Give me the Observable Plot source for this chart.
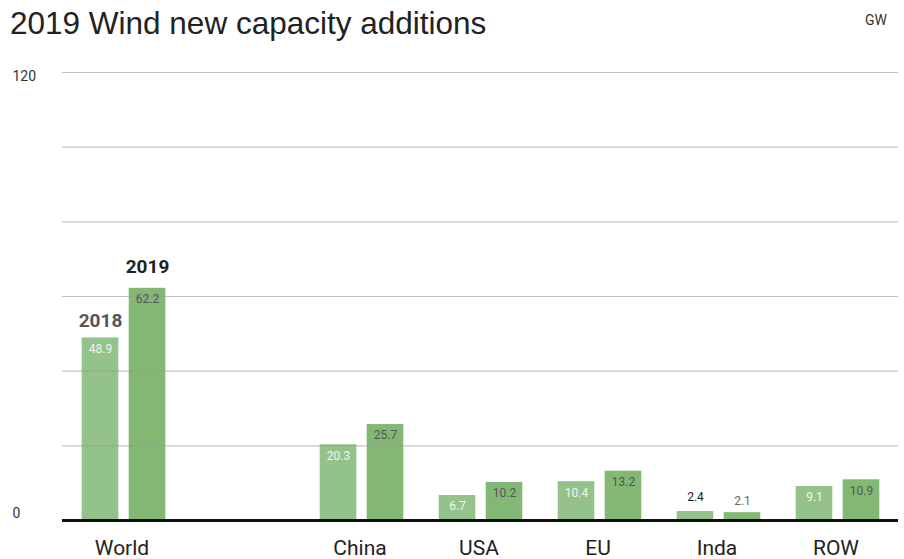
<!DOCTYPE html>
<html>
<head>
<meta charset="utf-8">
<script src="https://cdn.jsdelivr.net/npm/d3@7"></script>
<script src="https://cdn.jsdelivr.net/npm/@observablehq/plot@0.6"></script>
<style>
  html, body { margin: 0; padding: 0; background: #fff; }
  #wrap { position: relative; width: 904px; height: 559px; overflow: hidden; }
  #title { position: absolute; left: 10px; top: 5px; font-family: "Liberation Sans", Arial, sans-serif; font-size: 31.5px; color: #222; white-space: nowrap; }
  #unit { position: absolute; left: 865px; top: 12px; font-family: Roboto, sans-serif; font-size: 14px; color: #333; }
  #chart { position: absolute; left: 0; top: 50px; }
</style>
</head>
<body>
<div id="wrap">
  <div id="title">2019 Wind new capacity additions</div>
  <div id="unit">GW</div>
  <div id="chart"></div>
</div>
<script>
const categories = ["World", " ", "China", "USA", "EU", "Inda", "ROW"];
const regions = ["World", "China", "USA", "EU", "Inda", "ROW"];
const values2018 = [48.9, 20.3, 6.7, 10.4, 2.4, 9.1];
const values2019 = [62.2, 25.7, 10.2, 13.2, 2.1, 10.9];
const yTicks = [0, 20, 40, 60, 80, 100, 120];
const yTickLabels = [0, 120];

const d18 = regions.map((r, i) => ({region: r, value: values2018[i]}));
const d19 = regions.map((r, i) => ({region: r, value: values2019[i]}));
const inside18 = d18.filter(d => d.value > 5);
const inside19 = d19.filter(d => d.value > 5);
const above18 = d18.filter(d => d.value <= 5);
const above19 = d19.filter(d => d.value <= 5);
const world18 = d18.filter(d => d.region === "World");
const world19 = d19.filter(d => d.region === "World");

const font = "Roboto, sans-serif";
const c18 = "#93c38a", c19 = "#82b874";
// band ~119.4px; bars 37px wide, 10px apart, centered in band
const outer = 17.7, inner = 64.7, off = 23.5;

const chart = Plot.plot({
  width: 904,
  height: 509,
  marginLeft: 62,
  marginRight: 6,
  marginTop: 22,
  marginBottom: 39,
  style: {fontFamily: font, background: "#fff", overflow: "visible"},
  x: {domain: categories, padding: 0, label: null, axis: null},
  y: {domain: [0, 120], axis: null},
  marks: [
    Plot.barY(d18, {x: "region", y: "value", fill: c18, insetLeft: outer, insetRight: inner}),
    Plot.barY(d19, {x: "region", y: "value", fill: c19, insetLeft: inner, insetRight: outer}),
    Plot.ruleY(yTicks.filter(t => t > 0), {stroke: "#999", strokeOpacity: 0.6, strokeWidth: 1.2}),
    Plot.ruleY([0], {stroke: "#111", strokeWidth: 3}),
    Plot.text(yTickLabels.filter(t => t > 0), {y: d => d, frameAnchor: "left", text: d => String(d), dx: -50, dy: 4, textAnchor: "start", fontSize: 14, fill: "#333"}),
    Plot.text(yTickLabels.filter(t => t === 0), {y: d => d, frameAnchor: "left", text: d => String(d), dx: -50, dy: -7, textAnchor: "start", fontSize: 14, fill: "#333"}),
    Plot.text(inside18, {x: "region", y: "value", text: d => d.value.toFixed(1), dx: -off, dy: 11, fill: "#f4f4f4", fontSize: 12}),
    Plot.text(inside19, {x: "region", y: "value", text: d => d.value.toFixed(1), dx: off, dy: 11, fill: "#555", fontSize: 12}),
    Plot.text(above18, {x: "region", y: "value", text: d => d.value.toFixed(1), dx: -off, dy: -14, fill: "#222", fontSize: 12}),
    Plot.text(above19, {x: "region", y: "value", text: d => d.value.toFixed(1), dx: off, dy: -12, fill: "#666", fontSize: 12}),
    Plot.text(world18, {x: "region", y: "value", text: () => "2018", dx: -off, dy: -17, fill: "#555", fontSize: 19, fontWeight: "bold"}),
    Plot.text(world19, {x: "region", y: "value", text: () => "2019", dx: off, dy: -21, fill: "#222", fontSize: 19, fontWeight: "bold"}),
    Plot.text(regions, {x: d => d, y: 0, text: d => d, dx: -2, dy: 28, fill: "#222", fontSize: 21})
  ]
});
document.getElementById("chart").appendChild(chart);
</script>
</body>
</html>
